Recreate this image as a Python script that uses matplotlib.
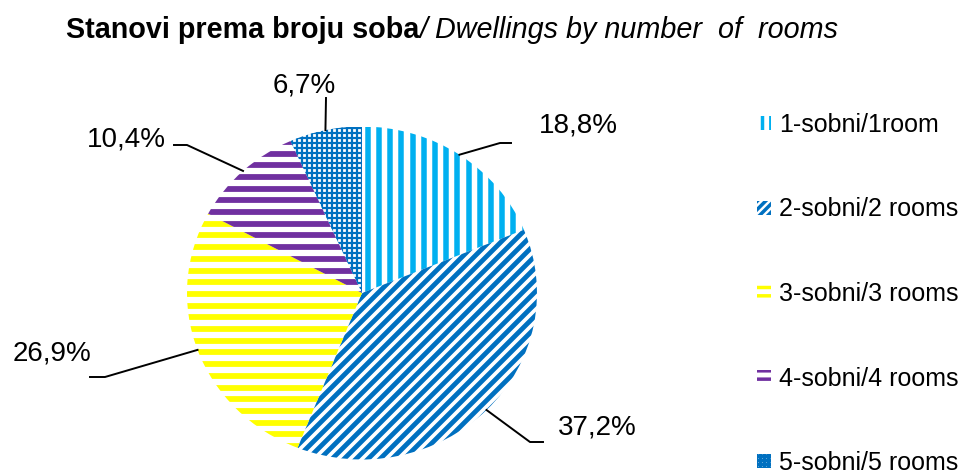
import matplotlib
matplotlib.use("Agg")
import matplotlib.pyplot as plt
from matplotlib.patches import Patch
from matplotlib.collections import LineCollection
import numpy as np

labels = ["1-sobni/1room", "2-sobni/2 rooms", "3-sobni/3 rooms",
          "4-sobni/4 rooms", "5-sobni/5 rooms"]
shares = [18.8, 37.2, 26.9, 10.4, 6.7]
pct_text = ["18,8%", "37,2%", "26,9%", "10,4%", "6,7%"]

colors = ["#00B0F0", "#0070C0", "#FFFF00", "#7030A0", "#0070C0"]
patterns = ["vert", "diag", "horiz", "horiz", "check"]
legend_hatch = ["||", "////", "--", "--", "++++"]

plt.rcParams["font.family"] = ["Liberation Sans", "DejaVu Sans"]
plt.rcParams["hatch.linewidth"] = 2.5

W, H, DPI = 969, 476, 100
fig = plt.figure(figsize=(W / DPI, H / DPI), dpi=DPI)
PT = 72 / DPI  # points per pixel

# pie area in pixels: centre (362, 293), radii 175 x 166.5
cx, cy, rx, ry = 362, 293, 175, 166.5
ax = fig.add_axes([(cx - rx) / W, (H - cy - ry) / H, 2 * rx / W, 2 * ry / H])

wedges, _ = ax.pie(shares, startangle=90, counterclock=False, radius=1,
                   wedgeprops=dict(linewidth=0, facecolor="white"))
ax.set_xlim(-1, 1)
ax.set_ylim(-1, 1)
ax.set_aspect("auto")
ax.axis("off")


def stripes(kind):
    # stripe segments in data coords (pixel spacing converted)
    segs = []
    if kind == "vert":
        for x in np.arange(-1.2, 1.2, 11.2 / rx) + 3 / rx:
            segs.append([(x, -1.2), (x, 1.2)])
        return segs, 5.5
    if kind == "horiz":
        for y in np.arange(-1.2, 1.2, 11.7 / ry):
            segs.append([(-1.2, y), (1.2, y)])
        return segs, 5.8
    if kind == "diag":
        for c in np.arange(-500, 500, 12.0):
            y0, y1 = -1.2, 1.2
            segs.append([((c + ry * y0) / rx, y0), ((c + ry * y1) / rx, y1)])
        return segs, 4.8
    # checker: fine grid
    for x in np.arange(-1.2, 1.2, 5.0 / rx):
        segs.append([(x, -1.2), (x, 1.2)])
    for y in np.arange(-1.2, 1.2, 5.0 / ry):
        segs.append([(-1.2, y), (1.2, y)])
    return segs, 2.2


for w, c, kind in zip(wedges, colors, patterns):
    segs, lw_px = stripes(kind)
    lc = LineCollection(segs, colors=c, linewidths=lw_px * PT,
                        capstyle="butt")
    ax.add_collection(lc)
    lc.set_clip_path(w)


def px(x, y):
    return (x - cx) / rx, (cy - y) / ry


# label positions (text centre) and leader elbow/end points in pixels
text_pos = [(578, 125), (597, 428), (52, 353), (126, 139), (304, 86)]
elbows = [[(500, 143), (511, 143)], [(530, 442), (543, 442)],
          [(105, 377), (90, 377)], [(187, 145), (174, 145)], [(326, 98)]]

for w, txt, tp, el in zip(wedges, pct_text, text_pos, elbows):
    ang = np.deg2rad((w.theta1 + w.theta2) / 2)
    sx, sy = np.cos(ang), np.sin(ang)
    pts = [(sx, sy)] + [px(*p) for p in el]
    ax.plot([p[0] for p in pts], [p[1] for p in pts], color="black",
            lw=1.4, clip_on=False)
    tx, ty = px(*tp)
    ax.text(tx, ty, txt, fontsize=20, ha="center", va="center")

# title: bold part followed by italic part
t1 = fig.text(66 / W, 1 - 30 / H, "Stanovi prema broju soba", fontsize=20.7,
              fontweight="bold", ha="left", va="center")
fig.canvas.draw()
bb = t1.get_window_extent()
fig.text(bb.x1 / W, 1 - 30 / H, "/ Dwellings by number  of  rooms",
         fontsize=20.7, fontstyle="italic", ha="left", va="center")

# legend
handles = [Patch(facecolor="white", edgecolor=c, hatch=h, linewidth=0)
           for c, h in zip(colors, legend_hatch)]
leg = fig.legend(handles, labels, loc="upper left",
                 bbox_to_anchor=(747 / W, 1 - 103 / H), frameon=False,
                 fontsize=18, handlelength=0.57, handleheight=0.5,
                 handletextpad=0.3, labelspacing=2.42, borderaxespad=0)

fig.savefig("out.png", dpi=DPI)
